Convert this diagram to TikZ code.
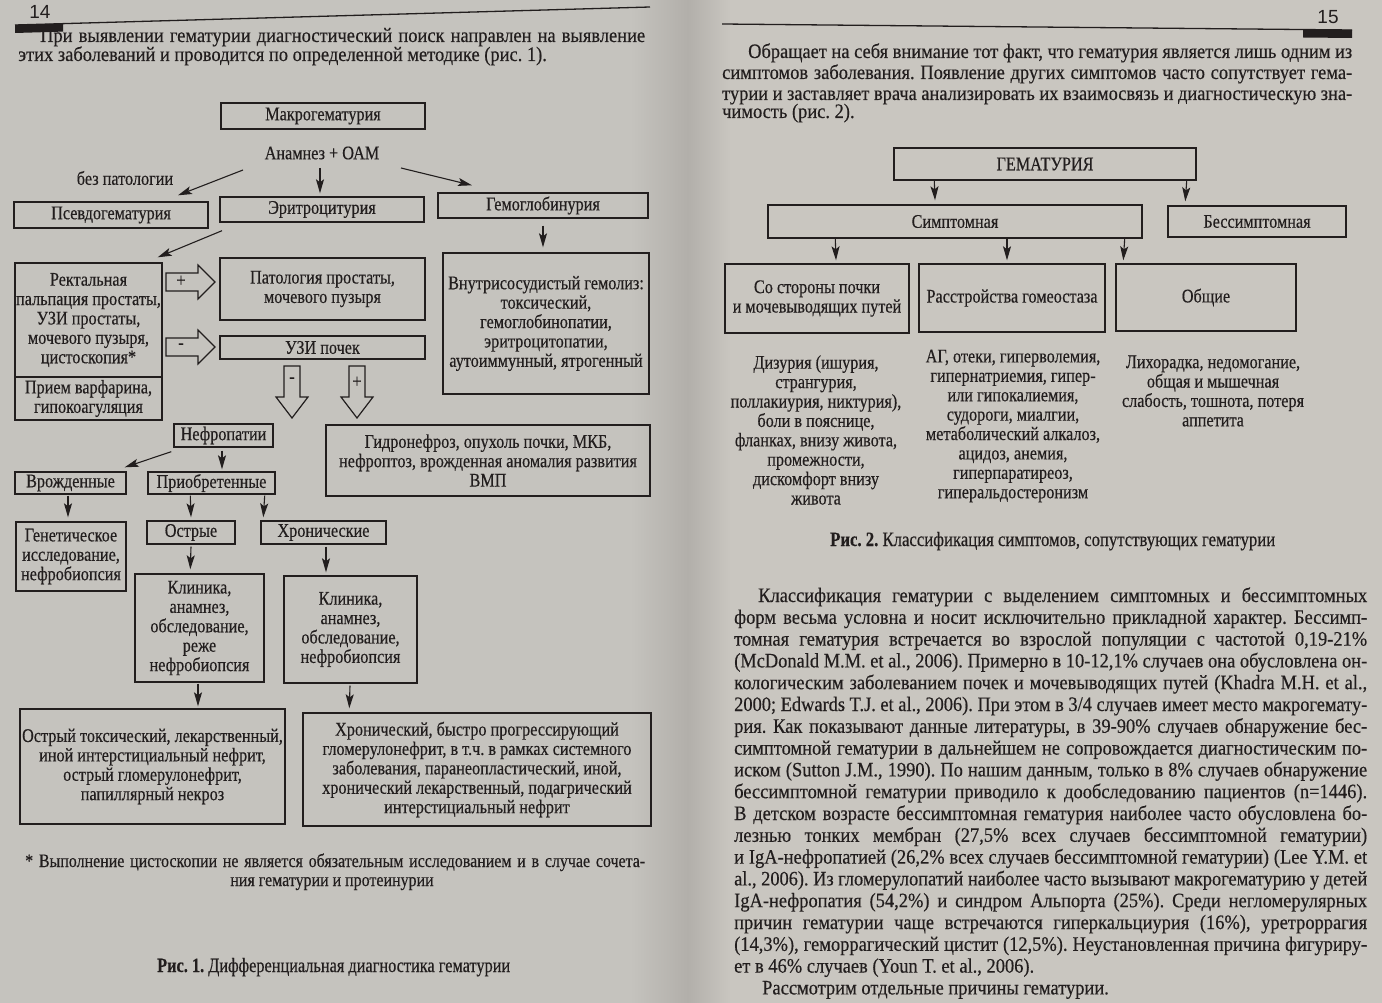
\documentclass[tikz,border=0pt]{standalone}
\usepackage{fontspec}
\usepackage{graphicx}
\setmainfont{Liberation Serif}[FakeStretch=0.9,FakeBold=0.35]
\newfontfamily\diagfont{Liberation Serif}[FakeStretch=0.84,FakeBold=0.35]
\newfontfamily\hdrfont{Liberation Sans}
\usetikzlibrary{arrows.meta,calc}
\frenchspacing
\definecolor{paperL}{RGB}{197,195,190}
\definecolor{paperR}{RGB}{201,198,192}
\definecolor{gutter}{RGB}{178,175,170}
\definecolor{ink}{RGB}{34,30,30}
\newcommand\bfs{\fontsize{20.5pt}{21.8pt}\selectfont}
\newcommand\dfs{\diagfont\fontsize{19.3pt}{19.4pt}\selectfont}
\newcommand\cfs{\diagfont\fontsize{20.3pt}{21pt}\selectfont}
\newcommand\ffs{\diagfont\fontsize{19pt}{19pt}\selectfont}
\newlength\jlw
\newcommand\jline[2]{\settowidth\jlw{#2}\ifdim\jlw<#1\relax\makebox[#1][s]{#2}\else\resizebox{#1}{\height}{#2}\fi}
\begin{document}
\begin{tikzpicture}[x=1pt,y=-1pt,
  box/.style={draw=ink, line width=1.4pt, inner sep=0pt, align=center, font=\dfs, text=ink},
  txt/.style={inner sep=0pt, align=center, font=\dfs, text=ink},
  para/.style={inner sep=0pt, anchor=base west, font=\bfs, text=ink},
  arr/.style={draw=ink, line width=1.1pt, -{Stealth[length=14pt,width=8pt,inset=3pt]}},
  blk/.style={draw=ink, line width=1.2pt, line join=miter},
  hdr/.style={inner sep=0pt, font=\hdrfont\fontsize{19pt}{20pt}\selectfont, text=ink}]
\useasboundingbox (0,0) rectangle (1382,1003);
\fill[paperL] (0,0) rectangle (1382,1003);
\fill[paperR] (700,0) rectangle (1382,1003);
\shade[left color=paperL,right color=gutter] (630,0) rectangle (688,1003);
\shade[left color=gutter,right color=paperR] (688,0) rectangle (730,1003);

% ---------- headers ----------
\node[hdr] (p14) at (40,12) {14};
\draw[ink,line width=1.3pt] (15,25) -- (650,7);
\fill[ink] (15,25) -- (63,23.6) -- (63,31.6) -- (15,33) -- cycle;
\node[hdr] (p15) at (1328,17) {15};
\draw[ink,line width=1.3pt] (722,24) -- (1352,30);
\fill[ink] (1303,29.5) -- (1352,30) -- (1352,38) -- (1303,37.5) -- cycle;

% ---------- left page text ----------
\node[para] (lp1) at (40,42) {\jline{605pt}{При выявлении гематурии диагностический поиск направлен на выявление}};
\node[para] (lp2) at (18,61) {этих заболеваний и проводится по определенной методике (рис. 1).};

% ---------- figure 1 ----------
\node[box, minimum width=204pt, minimum height=26pt] (macro) at (323,116) {Макрогематурия};
\node[txt] (anam) at (322,153) {Анамнез + ОАМ};
\node[txt] (bezp) at (125,178) {без патологии};
\node[box, minimum width=194pt, minimum height=26pt] (pseudo) at (111,215) {Псевдогематурия};
\node[box, minimum width=204pt, minimum height=25pt] (erit) at (322,209.5) {Эритроцитурия};
\node[box, minimum width=210pt, minimum height=25pt] (hemo) at (543,205.5) {Гемоглобинурия};
\node[box, minimum width=147pt, minimum height=114pt] (rect) at (88.5,320) {Ректальная\\ пальпация простаты,\\ УЗИ простаты,\\ мочевого пузыря,\\ цистоскопия*};
\node[box, minimum width=147pt, minimum height=43pt] (warf) at (88.5,398.5) {Прием варфарина,\\ гипокоагуляция};
\node[box, minimum width=205pt, minimum height=62pt] (patol) at (322.5,289) {Патология простаты,\\ мочевого пузыря};
\node[box, minimum width=205pt, minimum height=23pt] (uzi) at (322.5,347.5) {УЗИ почек};
\node[box, minimum width=206pt, minimum height=141pt] (vnutr) at (546,323.5) {Внутрисосудистый гемолиз:\\ токсический,\\ гемоглобинопатии,\\ эритроцитопатии,\\ аутоиммунный, ятрогенный};
\node[box, minimum width=99pt, minimum height=23pt] (nefro) at (223.5,435.5) {Нефропатии};
\node[box, minimum width=324pt, minimum height=71pt] (gidro) at (488,460.5) {Гидронефроз, опухоль почки, МКБ,\\ нефроптоз, врожденная аномалия развития\\ ВМП};
\node[box, minimum width=111pt, minimum height=22pt] (vrozh) at (70.5,483) {Врожденные};
\node[box, minimum width=127pt, minimum height=22pt] (priob) at (211.5,483) {Приобретенные};
\node[box, minimum width=110pt, minimum height=69pt] (genet) at (71,556.5) {Генетическое\\ исследование,\\ нефробиопсия};
\node[box, minimum width=88pt, minimum height=23pt] (ostr) at (191,532.5) {Острые};
\node[box, minimum width=125pt, minimum height=23pt] (hron) at (323.5,532.5) {Хронические};
\node[box, minimum width=129pt, minimum height=108pt] (klin1) at (199.5,628) {Клиника,\\ анамнез,\\ обследование,\\ реже\\ нефробиопсия};
\node[box, minimum width=133pt, minimum height=107pt] (klin2) at (350.5,629.5) {Клиника,\\ анамнез,\\ обследование,\\ нефробиопсия};
\node[box, minimum width=265pt, minimum height=115pt] (ostrtox) at (152.5,766.5) {Острый токсический, лекарственный,\\ иной интерстициальный нефрит,\\ острый гломерулонефрит,\\ папиллярный некроз};
\node[box, minimum width=348pt, minimum height=113pt] (hronglom) at (477,769.5) {Хронический, быстро прогрессирующий\\ гломерулонефрит, в т.ч. в рамках системного\\ заболевания, паранеопластический, иной,\\ хронический лекарственный, подагрический\\ интерстициальный нефрит};

% arrows fig 1
\draw[arr] ($(anam.center)+(-79,17)$) -- ($(pseudo.north)+(67,-6)$);
\draw[arr] ($(anam.center)+(-2,15)$) -- ($(erit.north)+(-2,-3)$);
\draw[arr] ($(anam.center)+(79,15)$) -- ($(hemo.north)+(-71,-7)$);
\draw[arr] ($(erit.south)+(-100,8)$) -- ($(rect.north east)+(-5,-5)$);
\draw[arr] ($(hemo.south)+(0,7)$) -- ($(vnutr.north)+(-3,-5)$);
\draw[arr] ($(nefro.south west)+(-2,4)$) -- ($(vrozh.north east)+(-2,-4)$);
\draw[arr] ($(nefro.south)+(-1.5,3)$) -- ($(priob.north)+(10.5,-2)$);
\draw[arr] ($(vrozh.south)+(-2.5,1)$) -- ($(genet.north)+(-3,-4)$);
\draw[arr] ($(priob.south west)+(43,1)$) -- ($(ostr.north)+(0,-3)$);
\draw[arr] ($(priob.south east)+(-11,1)$) -- ($(hron.north west)+(3,-3)$);
\draw[arr] ($(ostr.south)+(0,2)$) -- ($(klin1.north west)+(56,-4)$);
\draw[arr] ($(hron.south)+(2.5,2)$) -- ($(klin2.north)+(-24.5,-3)$);
\draw[arr] ($(klin1.south)+(-1.5,1)$) -- ($(ostrtox.north)+(45.5,-2)$);
\draw[arr] ($(klin2.south)+(-0.5,2)$) -- ($(hronglom.north west)+(47,-4)$);

% block arrows
\draw[blk] (166,273) -- (198,273) -- (198,265) -- (215,282) -- (198,299) -- (198,291) -- (166,291) -- cycle;
\node[txt] (bplus1) at (181,281) {+};
\draw[blk] (166,338) -- (198,338) -- (198,330) -- (215,347) -- (198,364) -- (198,356) -- (166,356) -- cycle;
\node[txt] (bminus1) at (181,346) {-};
\draw[blk] (284,366) -- (300,366) -- (300,397) -- (308,397) -- (292,418) -- (276,397) -- (284,397) -- cycle;
\node[txt] (bminus2) at (292,380) {-};
\draw[blk] (349,366) -- (365,366) -- (365,397) -- (373,397) -- (357,418) -- (341,397) -- (349,397) -- cycle;
\node[txt] (bplus2) at (357,382) {+};

% footnote and caption
\node[para, font=\ffs] (fn1) at (25,867) {\jline{620pt}{* Выполнение цистоскопии не является обязательным исследованием и в случае сочета-}};
\node[txt, font=\ffs, anchor=base] (fn2) at (332,886) {ния гематурии и протеинурии};
\node[para, font=\cfs] (cap1) at (157,972) {\jline{353pt}{\textbf{Рис. 1.} Дифференциальная диагностика гематурии}};

% ---------- right page text ----------
\node[para] (rp1) at (748,58) {\jline{604pt}{Обращает на себя внимание тот факт, что гематурия является лишь одним из}};
\node[para] (rp2) at (722,79) {\jline{630pt}{симптомов заболевания. Появление других симптомов часто сопутствует гема-}};
\node[para] (rp3) at (722,100) {\jline{630pt}{турии и заставляет врача анализировать их взаимосвязь и диагностическую зна-}};
\node[para] (rp4) at (722,118) {чимость (рис. 2).};

% ---------- figure 2 ----------
\node[box, minimum width=302pt, minimum height=32pt] (gem) at (1045,164) {ГЕМАТУРИЯ};
\node[box, minimum width=374pt, minimum height=33pt] (simpt) at (955,221.5) {Симптомная};
\node[box, minimum width=178pt, minimum height=31pt] (bessimpt) at (1257,221.5) {Бессимптомная};
\node[box, minimum width=184pt, minimum height=69pt] (sost) at (817,298.5) {Со стороны почки\\ и мочевыводящих путей};
\node[box, minimum width=186pt, minimum height=68pt] (rasstr) at (1012,298) {Расстройства гомеостаза};
\node[box, minimum width=180pt, minimum height=67pt] (obsh) at (1206,297.5) {Общие};
\draw[arr] ($(gem.south west)+(41,0)$) -- ($(simpt.north)+(-20,-4)$);
\draw[arr] ($(gem.south east)+(-10,0)$) -- ($(bessimpt.north west)+(18,-4)$);
\draw[arr] ($(simpt.south west)+(68,0)$) -- ($(sost.north)+(19,-3)$);
\draw[arr] ($(simpt.south)+(52,0)$) -- ($(rasstr.north)+(-5,-3)$);
\draw[arr] ($(simpt.south east)+(-18,0)$) -- ($(obsh.north west)+(8,-3)$);
\node[txt] (col1) at (816,430) {Дизурия (ишурия,\\ странгурия,\\ поллакиурия, никтурия),\\ боли в пояснице,\\ фланках, внизу живота,\\ промежности,\\ дискомфорт внизу\\ живота};
\node[txt] (col2) at (1013,426) {АГ, отеки, гиперволемия,\\ гипернатриемия, гипер-\\ или гипокалиемия,\\ судороги, миалгии,\\ метаболический алкалоз,\\ ацидоз, анемия,\\ гиперпаратиреоз,\\ гиперальдостеронизм};
\node[txt] (col3) at (1213,391) {Лихорадка, недомогание,\\ общая и мышечная\\ слабость, тошнота, потеря\\ аппетита};
\node[para, font=\cfs] (cap2) at (830,546) {\jline{445pt}{\textbf{Рис. 2.} Классификация симптомов, сопутствующих гематурии}};

% ---------- right page body ----------
\node[para] (b0) at (758,602) {\jline{609pt}{Классификация гематурии с выделением симптомных и бессимптомных}};
\node[para] (b1) at (734,623.8) {\jline{633pt}{форм весьма условна и носит исключительно прикладной характер. Бессимп-}};
\node[para] (b2) at (734,645.6) {\jline{633pt}{томная гематурия встречается во взрослой популяции с частотой 0,19-21\%}};
\node[para] (b3) at (734,667.4) {\jline{633pt}{(McDonald M.M. et al., 2006). Примерно в 10-12,1\% случаев она обусловлена он-}};
\node[para] (b4) at (734,689.2) {\jline{633pt}{кологическим заболеванием почек и мочевыводящих путей (Khadra M.H. et al.,}};
\node[para] (b5) at (734,711) {\jline{633pt}{2000; Edwards T.J. et al., 2006). При этом в 3/4 случаев имеет место макрогемату-}};
\node[para] (b6) at (734,732.8) {\jline{633pt}{рия. Как показывают данные литературы, в 39-90\% случаев обнаружение бес-}};
\node[para] (b7) at (734,754.6) {\jline{633pt}{симптомной гематурии в дальнейшем не сопровождается диагностическим по-}};
\node[para] (b8) at (734,776.4) {\jline{633pt}{иском (Sutton J.M., 1990). По нашим данным, только в 8\% случаев обнаружение}};
\node[para] (b9) at (734,798.2) {\jline{633pt}{бессимптомной гематурии приводило к дообследованию пациентов (n=1446).}};
\node[para] (b10) at (734,820) {\jline{633pt}{В детском возрасте бессимптомная гематурия наиболее часто обусловлена бо-}};
\node[para] (b11) at (734,841.8) {\jline{633pt}{лезнью тонких мембран (27,5\% всех случаев бессимптомной гематурии)}};
\node[para] (b12) at (734,863.6) {\jline{633pt}{и IgA-нефропатией (26,2\% всех случаев бессимптомной гематурии) (Lee Y.M. et}};
\node[para] (b13) at (734,885.4) {\jline{633pt}{al., 2006). Из гломерулопатий наиболее часто вызывают макрогематурию у детей}};
\node[para] (b14) at (734,907.2) {\jline{633pt}{IgA-нефропатия (54,2\%) и синдром Альпорта (25\%). Среди негломерулярных}};
\node[para] (b15) at (734,929) {\jline{633pt}{причин гематурии чаще встречаются гиперкальциурия (16\%), уретроррагия}};
\node[para] (b16) at (734,950.8) {\jline{633pt}{(14,3\%), геморрагический цистит (12,5\%). Неустановленная причина фигуриру-}};
\node[para] (b17) at (734,972.6) {ет в 46\% случаев (Youn T. et al., 2006).};
\node[para] (b18) at (762,994.4) {Рассмотрим отдельные причины гематурии.};
\end{tikzpicture}
\end{document}
